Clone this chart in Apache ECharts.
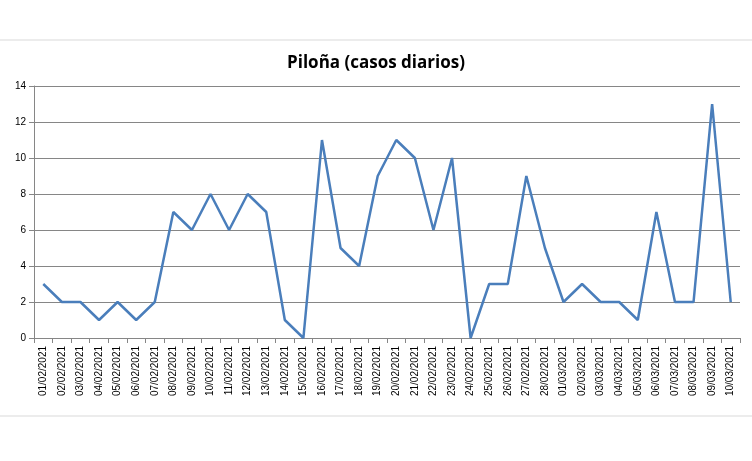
<!DOCTYPE html>
<html>
<head>
<meta charset="UTF-8">
<script src="https://cdn.jsdelivr.net/npm/echarts@6/dist/echarts.min.js"></script>
<style>
  html, body { margin: 0; padding: 0; background: #fff; }
  #chart { width: 752px; height: 461px; }
</style>
</head>
<body>
<div id="chart"></div>
<script>
  var dates = [
    '01/02/2021','02/02/2021','03/02/2021','04/02/2021','05/02/2021','06/02/2021','07/02/2021',
    '08/02/2021','09/02/2021','10/02/2021','11/02/2021','12/02/2021','13/02/2021','14/02/2021',
    '15/02/2021','16/02/2021','17/02/2021','18/02/2021','19/02/2021','20/02/2021','21/02/2021',
    '22/02/2021','23/02/2021','24/02/2021','25/02/2021','26/02/2021','27/02/2021','28/02/2021',
    '01/03/2021','02/03/2021','03/03/2021','04/03/2021','05/03/2021','06/03/2021','07/03/2021',
    '08/03/2021','09/03/2021','10/03/2021'
  ];
  var casos = [3, 2, 2, 1, 2, 1, 2, 7, 6, 8, 6, 8, 7, 1, 0, 11, 5, 4, 9, 11, 10, 6, 10, 0,
               3, 3, 9, 5, 2, 3, 2, 2, 1, 7, 2, 2, 13, 2];

  var chart = echarts.init(document.getElementById('chart'));
  chart.setOption({
    animation: false,
    title: {
      text: 'Piloña (casos diarios)',
      left: 'center',
      top: 50,
      textStyle: { fontFamily: 'Open Sans', fontSize: 17, fontWeight: 'bold', color: '#000' }
    },
    graphic: [
      { type: 'line', shape: { x1: 0, y1: 40, x2: 752, y2: 40 }, style: { stroke: '#d9d9d9', lineWidth: 1 } },
      { type: 'line', shape: { x1: 0, y1: 416, x2: 752, y2: 416 }, style: { stroke: '#d9d9d9', lineWidth: 1 } }
    ],
    grid: { left: 34, right: 12, top: 86, bottom: 123 },
    xAxis: {
      type: 'category',
      data: dates,
      boundaryGap: true,
      axisLine: { lineStyle: { color: '#868686' } },
      axisTick: { show: true, interval: 0, lineStyle: { color: '#868686' } },
      axisLabel: { interval: 0, rotate: 90, fontSize: 10, color: '#000', fontFamily: 'Liberation Sans' }
    },
    yAxis: {
      type: 'value',
      min: 0, max: 14, interval: 2,
      axisLine: { show: true, lineStyle: { color: '#868686' } },
      axisTick: { show: true, lineStyle: { color: '#868686' } },
      axisLabel: { fontSize: 10, color: '#000', fontFamily: 'Liberation Sans' },
      splitLine: { lineStyle: { color: '#868686' } }
    },
    series: [{
      type: 'line',
      data: casos,
      symbol: 'none',
      lineStyle: { color: '#4a7ebb', width: 2.5 }
    }]
  });
</script>
</body>
</html>
